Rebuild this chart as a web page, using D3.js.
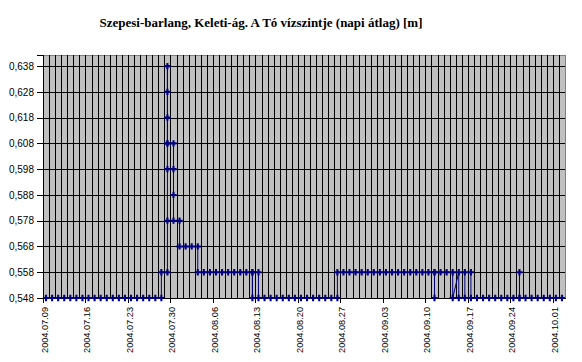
<!DOCTYPE html>
<head>
<meta charset="utf-8">
<title>Szepesi-barlang</title>
<script type="text/javascript" src="https://d3js.org/d3.v7.min.js"></script>
<style>
    body { margin: 0; background: #fff; }
    .title { font-family: "Liberation Serif", "Times New Roman", serif; font-weight: bold; font-size: 13px; fill: #000; }
    .axis text { font-family: "Liberation Sans", Arial, sans-serif; font-size: 10px; fill: #000; }
    .axis.x text { font-size: 9.2px; }
    .grid line { stroke: #000; stroke-width: 1; shape-rendering: crispEdges; }
    .line { fill: none; stroke: #000080; stroke-width: 1; }
    .dot { fill: #000080; }
</style>
</head>
<body>
<div id="container"></div>
<script>
// one entry per day, each day can hold more than one reading
var days = [
  "2004.07.09","2004.07.10","2004.07.11","2004.07.12","2004.07.13","2004.07.14","2004.07.15",
  "2004.07.16","2004.07.17","2004.07.18","2004.07.19","2004.07.20","2004.07.21","2004.07.22",
  "2004.07.23","2004.07.24","2004.07.25","2004.07.26","2004.07.27","2004.07.28","2004.07.29",
  "2004.07.30","2004.07.31","2004.08.01","2004.08.02","2004.08.03","2004.08.04","2004.08.05",
  "2004.08.06","2004.08.07","2004.08.08","2004.08.09","2004.08.10","2004.08.11","2004.08.12",
  "2004.08.13","2004.08.14","2004.08.15","2004.08.16","2004.08.17","2004.08.18","2004.08.19",
  "2004.08.20","2004.08.21","2004.08.22","2004.08.23","2004.08.24","2004.08.25","2004.08.26",
  "2004.08.27","2004.08.28","2004.08.29","2004.08.30","2004.08.31","2004.09.01","2004.09.02",
  "2004.09.03","2004.09.04","2004.09.05","2004.09.06","2004.09.07","2004.09.08","2004.09.09",
  "2004.09.10","2004.09.11","2004.09.12","2004.09.13","2004.09.14","2004.09.15","2004.09.16",
  "2004.09.17","2004.09.18","2004.09.19","2004.09.20","2004.09.21","2004.09.22","2004.09.23",
  "2004.09.24","2004.09.25","2004.09.26","2004.09.27","2004.09.28","2004.09.29","2004.09.30",
  "2004.10.01","2004.10.02"
];
var levels = [
  [0.548],[0.548],[0.548],[0.548],[0.548],[0.548],[0.548],
  [0.548],[0.548],[0.548],[0.548],[0.548],[0.548],[0.548],
  [0.548],[0.548],[0.548],[0.548],[0.548],[0.548,0.558],[0.558,0.578,0.598,0.608,0.618,0.628,0.638,0.608],
  [0.608,0.598,0.588,0.578],[0.578,0.568],[0.568],[0.568],[0.568,0.558],[0.558],[0.558],
  [0.558],[0.558],[0.558],[0.558],[0.558],[0.558],[0.558,0.548,0.558],
  [0.558,0.548],[0.548],[0.548],[0.548],[0.548],[0.548],[0.548],
  [0.548],[0.548],[0.548],[0.548],[0.548],[0.548],[0.548,0.558],
  [0.558],[0.558],[0.558],[0.558],[0.558],[0.558],[0.558],
  [0.558],[0.558],[0.558],[0.558],[0.558],[0.558],[0.558],
  [0.558],[0.558,0.548,0.558],[0.558],[0.558],[0.558,0.548],[0.558,0.548],[0.548,0.558],
  [0.558,0.548],[0.548],[0.548],[0.548],[0.548],[0.548],[0.548],
  [0.548],[0.548,0.558,0.548],[0.548],[0.548],[0.548],[0.548],[0.548],
  [0.548],[0.548]
];
var xTickLabels = ["2004.07.09","2004.07.16","2004.07.23","2004.07.30","2004.08.06","2004.08.13",
  "2004.08.20","2004.08.27","2004.09.03","2004.09.10","2004.09.17","2004.09.24","2004.10.01"];
var yTicks = [0.548,0.558,0.568,0.578,0.588,0.598,0.608,0.618,0.628,0.638];
var titleText = "Szepesi-barlang, Keleti-ág. A Tó vízszintje (napi átlag) [m]";

var width = 582, height = 362;
var plot = {left: 43, right: 565, top: 55, bottom: 298};

var svg = d3.select("#container").append("svg")
    .attr("width", width)
    .attr("height", height);

var parseDay = d3.timeParse("%Y.%m.%d");

// flatten the days into a single reading list (same x for readings of one day)
var readings = [];
days.forEach(function(d, i) {
    levels[i].forEach(function(v) {
        readings.push({day: parseDay(d), level: v});
    });
});

//----------------------------SCALES----------------------------//
var xScale = d3.scaleTime()
    .domain([parseDay("2004.07.09"), parseDay("2004.10.03")])
    .range([plot.left, plot.right]);
var yScale = d3.scaleLinear()
    .domain([0.548, 0.6423])
    .range([plot.bottom, plot.top]);

var dayCenter = function(d) { return xScale(d3.timeHour.offset(d, 12)); };

//--------------------------PLOT AREA---------------------------//
svg.append("rect")
    .attr("x", plot.left).attr("y", plot.top)
    .attr("width", plot.right - plot.left)
    .attr("height", plot.bottom - plot.top)
    .attr("fill", "#c0c0c0")
    .attr("stroke", "#808080")
    .attr("shape-rendering", "crispEdges");

var grid = svg.append("g").attr("class", "grid");
grid.selectAll(".vline")
    .data(d3.timeDay.range(parseDay("2004.07.10"), parseDay("2004.10.03")))
  .enter().append("line")
    .attr("x1", function(d) { return Math.round(xScale(d)) + 0.5; })
    .attr("x2", function(d) { return Math.round(xScale(d)) + 0.5; })
    .attr("y1", plot.top).attr("y2", plot.bottom);
grid.selectAll(".hline")
    .data(yTicks)
  .enter().append("line")
    .attr("x1", plot.left).attr("x2", plot.right)
    .attr("y1", function(d) { return Math.round(yScale(d)) + 0.5; })
    .attr("y2", function(d) { return Math.round(yScale(d)) + 0.5; });

//-----------------------------AXES-----------------------------//
var yAxis = d3.axisLeft(yScale)
    .tickValues(yTicks)
    .tickSize(6)
    .tickPadding(3)
    .tickFormat(function(d) { return d3.format(".3f")(d).replace(".", ","); });
svg.append("g")
    .attr("class", "axis")
    .attr("transform", "translate(" + plot.left + ",0)")
    .call(yAxis)
    .call(function(g) { g.selectAll("path,line").attr("stroke", "#000").attr("shape-rendering", "crispEdges"); });

var xAxis = d3.axisBottom(xScale)
    .tickValues(xTickLabels.map(parseDay))
    .tickSize(5)
    .tickSizeOuter(0)
    .tickFormat(d3.timeFormat("%Y.%m.%d"));
var gx = svg.append("g")
    .attr("class", "axis x")
    .attr("transform", "translate(0," + plot.bottom + ")")
    .call(xAxis);
gx.selectAll("path,line").attr("stroke", "#000").attr("shape-rendering", "crispEdges");
gx.selectAll("text")
    .attr("transform", "translate(4.5,9) rotate(-90)")
    .attr("x", 0).attr("y", 0).attr("dy", 0)
    .style("text-anchor", "end");

//----------------------------LINE------------------------------//
var valueline = d3.line()
    .x(function(d) { return dayCenter(d.day); })
    .y(function(d) { return yScale(d.level); });

svg.append("path")
    .datum(readings)
    .attr("class", "line")
    .attr("d", valueline);

svg.selectAll(".dot")
    .data(readings)
  .enter().append("path")
    .attr("class", "dot")
    .attr("d", d3.symbol().type(d3.symbolCross).size(22))
    .attr("transform", function(d) { return "translate(" + dayCenter(d.day) + "," + yScale(d.level) + ")"; });

//----------------------------TITLE-----------------------------//
svg.append("text")
    .attr("class", "title")
    .attr("x", 261).attr("y", 27)
    .attr("text-anchor", "middle")
    .text(titleText);
</script>
</body>
